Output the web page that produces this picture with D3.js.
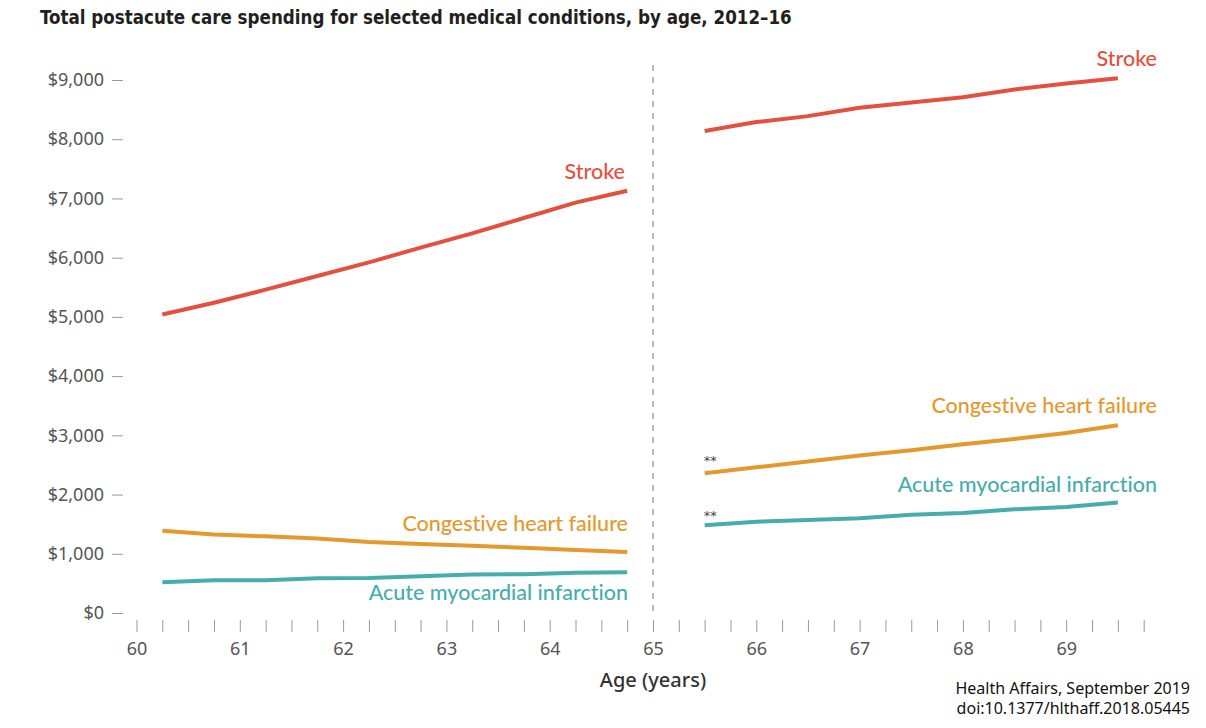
<!DOCTYPE html>
<html>
<head>
<meta charset="utf-8">
<script src="https://cdn.jsdelivr.net/npm/d3@7"></script>
<style>
  body { margin: 0; background: #fff; }
  svg { display: block; }
  text { font-variant-ligatures: none; }
</style>
</head>
<body>
<svg width="1206" height="728"></svg>
<script>
// ages of the points, before and after 65
var agesBefore = [60.25, 60.75, 61.25, 61.75, 62.25, 62.75, 63.25, 63.75, 64.25, 64.75];
var agesAfter = [65.5, 66, 66.5, 67, 67.5, 68, 68.5, 69, 69.5];

// spending, dollars
var strokeBefore = [5040, 5240, 5460, 5690, 5920, 6170, 6410, 6670, 6930, 7130];
var strokeAfter = [8140, 8290, 8390, 8530, 8620, 8710, 8840, 8940, 9030];
var chfBefore = [1390, 1325, 1295, 1260, 1200, 1165, 1135, 1100, 1065, 1030];
var chfAfter = [2360, 2460, 2560, 2660, 2750, 2850, 2940, 3040, 3170];
var amiBefore = [520, 555, 555, 585, 590, 620, 650, 655, 680, 690];
var amiAfter = [1480, 1540, 1570, 1600, 1660, 1690, 1750, 1790, 1865];

var yTicks = [0, 1000, 2000, 3000, 4000, 5000, 6000, 7000, 8000, 9000];
var xLabels = [60, 61, 62, 63, 64, 65, 66, 67, 68, 69];

var series = [
    {name: "Stroke", color: "#e4503d", before: strokeBefore, after: strokeAfter},
    {name: "Congestive heart failure", color: "#e5982c", before: chfBefore, after: chfAfter},
    {name: "Acute myocardial infarction", color: "#46adad", before: amiBefore, after: amiAfter}
];

var svg = d3.select("svg");

var x = d3.scaleLinear().domain([60, 70]).range([136.5, 1169.5]);
var y = d3.scaleLinear().domain([0, 9000]).range([613, 80]);

// title
svg.append("text")
    .attr("x", 40).attr("y", 24)
    .attr("font-family", "DejaVu Sans Condensed")
    .attr("font-weight", "bold")
    .attr("font-size", 18.6)
    .attr("fill", "#231f20")
    .text("Total postacute care spending for selected medical conditions, by age, 2012–16");

// y axis
var yAxis = svg.append("g")
    .attr("transform", "translate(123,0)")
    .call(d3.axisLeft(y).tickValues(yTicks).tickSize(11).tickPadding(8)
        .tickFormat(function(d) { return "$" + d3.format(",")(d); }));
yAxis.select(".domain").remove();
yAxis.selectAll(".tick line").attr("stroke", "#999").attr("stroke-width", 1);
yAxis.selectAll(".tick text")
    .attr("font-family", "Noto Sans")
    .attr("font-size", 18)
    .attr("fill", "#555");

// x axis: quarter-year ticks
var quarterTicks = d3.range(60, 69.76, 0.25);
var xAxis = svg.append("g")
    .attr("transform", "translate(0,620)")
    .call(d3.axisBottom(x).tickValues(quarterTicks).tickSize(12).tickPadding(10)
        .tickFormat(function(d) { return xLabels.indexOf(d) >= 0 ? d : ""; }));
xAxis.select(".domain").remove();
xAxis.selectAll(".tick line").attr("stroke", "#999").attr("stroke-width", 1);
xAxis.selectAll(".tick text")
    .attr("font-family", "Noto Sans")
    .attr("font-size", 18)
    .attr("fill", "#555");

// age 65 cut-off
svg.append("line")
    .attr("x1", x(65)).attr("x2", x(65))
    .attr("y1", 65).attr("y2", 612)
    .attr("stroke", "#777")
    .attr("stroke-width", 1)
    .attr("stroke-dasharray", "6,6");

var line = d3.line()
    .x(function(d) { return x(d[0]); })
    .y(function(d) { return y(d[1]); });

series.forEach(function(s) {
    svg.append("path")
        .datum(d3.zip(agesBefore, s.before))
        .attr("d", line)
        .attr("fill", "none")
        .attr("stroke", s.color)
        .attr("stroke-width", 4);
    svg.append("path")
        .datum(d3.zip(agesAfter, s.after))
        .attr("d", line)
        .attr("fill", "none")
        .attr("stroke", s.color)
        .attr("stroke-width", 4);
});

// series labels
var labels = [
    {text: "Stroke", color: "#e4503d", x: 625, y: 179},
    {text: "Stroke", color: "#e4503d", x: 1157, y: 66},
    {text: "Congestive heart failure", color: "#e5982c", x: 628, y: 531},
    {text: "Congestive heart failure", color: "#e5982c", x: 1157, y: 413},
    {text: "Acute myocardial infarction", color: "#46adad", x: 628, y: 600},
    {text: "Acute myocardial infarction", color: "#46adad", x: 1157, y: 492}
];
svg.selectAll(".label")
    .data(labels)
    .enter()
    .append("text")
    .attr("class", "label")
    .attr("x", function(d) { return d.x; })
    .attr("y", function(d) { return d.y; })
    .attr("text-anchor", "end")
    .attr("font-family", "Lato")
    .attr("font-weight", 500)
    .attr("font-size", 21.5)
    .attr("fill", function(d) { return d.color; })
    .text(function(d) { return d.text; });

// significance marks at 65.5
svg.append("text")
    .attr("x", x(65.5) - 1).attr("y", y(chfAfter[0]) - 8)
    .attr("font-family", "DejaVu Sans")
    .attr("font-size", 13)
    .attr("fill", "#444")
    .text("**");
svg.append("text")
    .attr("x", x(65.5) - 1).attr("y", y(amiAfter[0]) - 5)
    .attr("font-family", "DejaVu Sans")
    .attr("font-size", 13)
    .attr("fill", "#444")
    .text("**");

// axis title
svg.append("text")
    .attr("x", x(65)).attr("y", 687)
    .attr("text-anchor", "middle")
    .attr("font-family", "Noto Sans")
    .attr("font-weight", 500)
    .attr("font-size", 20)
    .attr("fill", "#333")
    .text("Age (years)");

// source
svg.append("text")
    .attr("x", 1190).attr("y", 694)
    .attr("text-anchor", "end")
    .attr("font-family", "Noto Sans")
    .attr("font-size", 16)
    .attr("fill", "#111")
    .text("Health Affairs, September 2019");
svg.append("text")
    .attr("x", 1190).attr("y", 714)
    .attr("text-anchor", "end")
    .attr("font-family", "Noto Sans")
    .attr("font-size", 16)
    .attr("fill", "#111")
    .text("doi:10.1377/hlthaff.2018.05445");
</script>
</body>
</html>
